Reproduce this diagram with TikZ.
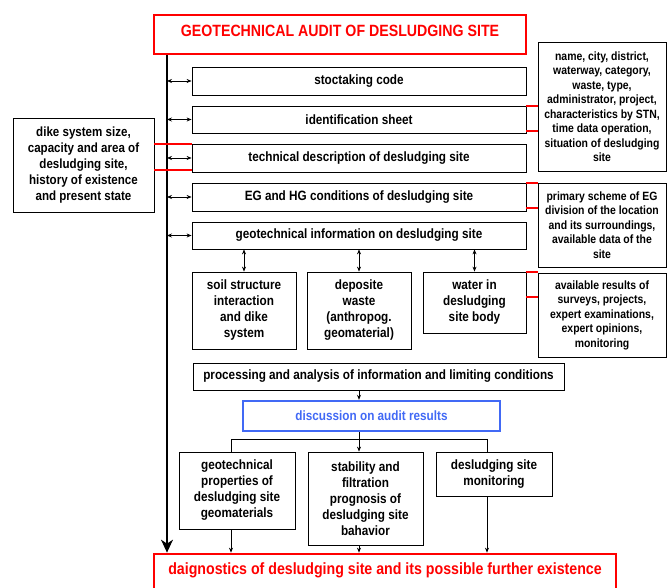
\documentclass[tikz,border=0pt]{standalone}
\usepackage{fontspec}
\setmainfont{Liberation Sans}[FakeStretch=0.87]
\usetikzlibrary{arrows.meta}
\definecolor{audred}{RGB}{255,0,0}
\definecolor{audblue}{RGB}{65,105,245}
\begin{document}
\begin{tikzpicture}[x=1pt,y=-1pt,
  box/.style={draw=black, line width=0.8pt, inner sep=1pt, align=center,
    font=\bfseries\fontsize{13.5}{16}\selectfont},
  lbox/.style={box, font=\bfseries\fontsize{13.3}{16}\selectfont},
  rbox/.style={box, font=\bfseries\fontsize{12}{14.5}\selectfont},
  redframe/.style={draw=audred, line width=2.7pt, inner sep=0pt},
  blueframe/.style={draw=audblue, line width=2.4pt, inner sep=0pt, text=audblue,
    font=\bfseries\fontsize{13.5}{16}\selectfont},
  redtext/.style={text=audred, inner sep=0pt, font=\bfseries\fontsize{16.3}{19}\selectfont},
  redln/.style={draw=audred, line width=2pt},
  darr/.style={draw=black, line width=0.7pt, {Stealth[length=5pt,width=4pt]}-{Stealth[length=5pt,width=4pt]}},
  arr/.style={draw=black, line width=0.7pt, -{Stealth[length=5pt,width=4pt]}},
  ln/.style={draw=black, line width=0.7pt},
  bigarr/.style={draw=black, line width=1.2pt, -{Stealth[length=13pt,width=12pt,inset=4pt]}}
]
\useasboundingbox (0,0) rectangle (667,588);

% title
\node[redframe, minimum width=372, minimum height=39] (title) at (340,34.5) {};
\node[redtext] (titletext) at (340,31) {GEOTECHNICAL AUDIT OF DESLUDGING SITE};

% main column
\node[box, minimum width=334, minimum height=28] (stock) at (359,81) {stoctaking code};
\node[box, minimum width=334, minimum height=27] (ident) at (359,119.5) {identification sheet};
\node[box, minimum width=334, minimum height=28] (tech) at (359,158) {technical description of desludging site};
\node[box, minimum width=334, minimum height=28] (eg) at (359,197) {EG and HG conditions of desludging site};
\node[box, minimum width=334, minimum height=27] (geo) at (359,235.5) {geotechnical information on desludging site};

% side boxes
\node[lbox, minimum width=141, minimum height=94] (left) at (83.5,165)
  {dike system size,\\capacity and area of\\desludging site,\\history of existence\\and present state};
\node[rbox, minimum width=128, minimum height=129] (rb1) at (602,106.5)
  {name, city, district,\\waterway, category,\\waste, type,\\administrator, project,\\characteristics by STN,\\time data operation,\\situation of desludging\\site};
\node[rbox, minimum width=128, minimum height=84] (rb2) at (602,225)
  {primary scheme of EG\\division of the location\\and its surroundings,\\available data of the\\site};
\node[rbox, minimum width=128, minimum height=84] (rb3) at (602,315)
  {available results of\\surveys, projects,\\expert examinations,\\expert opinions,\\monitoring};

% sub boxes
\node[box, minimum width=104, minimum height=77] (soil) at (244,310.5)
  {soil structure\\interaction\\and dike\\system};
\node[box, minimum width=104, minimum height=77] (dep) at (359,310.5)
  {deposite\\waste\\(anthropog.\\geomaterial)};
\node[box, minimum width=103, minimum height=61] (water) at (474.5,302.5)
  {water in\\desludging\\site body};

\node[box, minimum width=371, minimum height=27] (proc) at (378.5,376.5)
  {processing and analysis of information and limiting conditions};
\node[blueframe, minimum width=257, minimum height=30] (disc) at (371.5,416)
  {discussion on audit results};

\node[box, minimum width=116, minimum height=77] (props) at (237,490.5)
  {geotechnical\\properties of\\desludging site\\geomaterials};
\node[box, minimum width=115, minimum height=93] (stab) at (365.5,498.5)
  {stability and\\filtration\\prognosis of\\desludging site\\bahavior};
\node[box, minimum width=116, minimum height=44] (mon) at (494,474)
  {desludging site\\monitoring};

% bottom
\node[redframe, minimum width=462, minimum height=66] (bot) at (385,587) {};
\node[redtext] (bottext) at (385,570) {daignostics of desludging site and its possible further existence};

% trunk
\coordinate (tx) at (167,0);
\draw[bigarr] (title.south -| tx) -- (bot.north -| tx);
\foreach \n in {stock,ident,tech,eg,geo}
  \draw[darr] (\n.west -| tx) -- (\n.west);

% vertical double arrows
\draw[darr] (geo.south -| soil) -- (soil.north);
\draw[darr] (geo.south -| dep) -- (dep.north);
\draw[darr] (geo.south -| water) -- (water.north);

% red links
\draw[redln] (tech.north west) -- (tech.north west -| left.east);
\draw[redln] ([yshift=2pt]tech.south west) -- ([yshift=2pt]tech.south west -| left.east);
\draw[redln] (ident.north east) -- (ident.north east -| rb1.west);
\draw[redln] ([yshift=2pt]ident.south east) -- ([yshift=2pt]ident.south east -| rb1.west);
\draw[redln] (eg.north east) -- (eg.north east -| rb2.west);
\draw[redln] ([yshift=3pt]eg.south east) -- ([yshift=3pt]eg.south east -| rb2.west);
\draw[redln] (water.north east) -- (water.north east -| rb3.west);
\draw[redln] ([yshift=5pt]water.east) -- ([yshift=5pt]water.east -| rb3.west);

% lower flow
\coordinate (br1) at (231,439);
\coordinate (br2) at (359,439);
\coordinate (br3) at (487,439);
\draw[arr] (proc.south -| br2) -- (disc.north -| br2);
\draw[ln] (disc.south -| br2) -- (br2);
\draw[ln] (br1) -- (br3);
\draw[arr] (br2) -- (stab.north -| br2);
\draw[ln] (br1) -- (props.north -| br1);
\draw[ln] (br3) -- (mon.north -| br3);
\draw[arr] (props.south -| br1) -- (bot.north -| br1);
\draw[arr] (stab.south -| br2) -- (bot.north -| br2);
\draw[arr] (mon.south -| br3) -- (bot.north -| br3);
\end{tikzpicture}
\end{document}
